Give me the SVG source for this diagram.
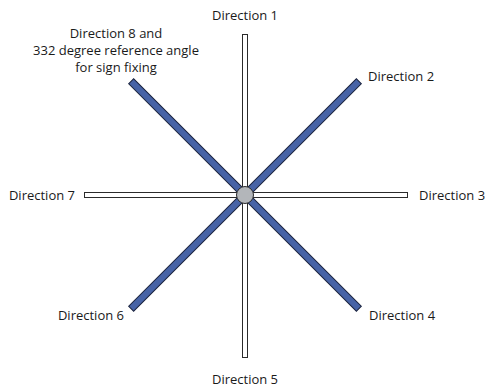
<svg xmlns="http://www.w3.org/2000/svg" width="485" height="390" viewBox="0 0 485 390">
<style>
.lbl{font-family:"Open Sans","Liberation Sans",sans-serif;font-size:13px;fill:#1a1a1a}
.bar{fill:#ffffff;stroke:#2b2b2b;stroke-width:1}
.diag{fill:#4763a6;stroke:#1c2540;stroke-width:1}
.hub{fill:#b3b6ba;stroke:#2b2b2b;stroke-width:1}
</style>
<rect width="485" height="390" fill="#ffffff"/>
<g id="connectors">
<rect class="bar" x="242.5" y="34.5" width="5" height="323"/>
<rect class="bar" x="84.5" y="192.5" width="323" height="5"/>
<rect class="diag" x="-3.5" y="-161" width="7" height="322" transform="translate(245 195) rotate(45)"/>
<rect class="diag" x="-3.5" y="-161" width="7" height="322" transform="translate(245 195) rotate(-45)"/>
</g>
<g id="hub"><circle class="hub" cx="245" cy="195" r="8.5"/></g>
<g id="dir1"><text class="lbl" x="245" y="20" text-anchor="middle">Direction 1</text></g>
<g id="dir2"><text class="lbl" x="368" y="81">Direction 2</text></g>
<g id="dir3"><text class="lbl" x="419" y="200">Direction 3</text></g>
<g id="dir4"><text class="lbl" x="369" y="320">Direction 4</text></g>
<g id="dir5"><text class="lbl" x="245" y="384" text-anchor="middle">Direction 5</text></g>
<g id="dir6"><text class="lbl" x="124" y="320" text-anchor="end">Direction 6</text></g>
<g id="dir7"><text class="lbl" x="75" y="200" text-anchor="end">Direction 7</text></g>
<g id="dir8"><text class="lbl" text-anchor="middle"><tspan x="116" y="38">Direction 8 and</tspan><tspan x="116" y="55">332 degree reference angle</tspan><tspan x="116" y="72">for sign fixing</tspan></text></g>
</svg>
